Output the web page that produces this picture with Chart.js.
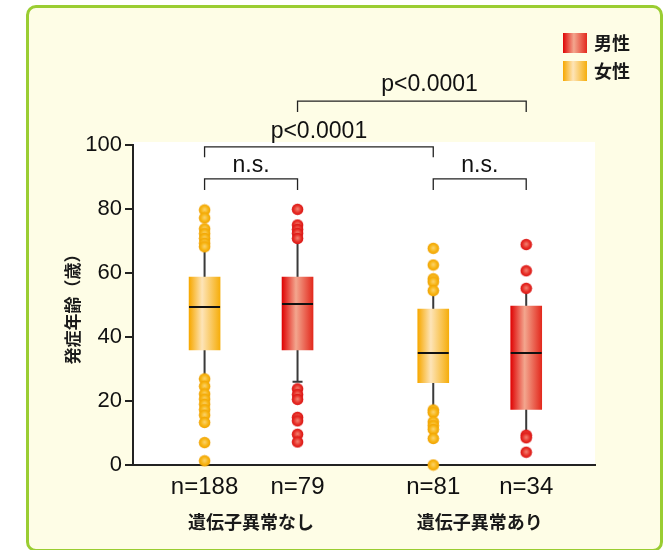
<!DOCTYPE html>
<html>
<head>
<meta charset="utf-8">
<script src="https://cdn.jsdelivr.net/npm/chart.js@4/dist/chart.umd.min.js"></script>
<style>
body { margin: 0; background: #fff; }
#frame { position: absolute; left: 26px; top: 5px; width: 631px; height: 541px; border: 3px solid #9acd32; border-radius: 10px; background: #fefde6; }
#wrap { position: absolute; left: 0; top: 0; width: 665px; height: 550px; }
</style>
</head>
<body>
<div id="frame"></div>
<div id="wrap"><canvas id="boxChart" width="665" height="550"></canvas></div>
<script>
// data
var groups = ["遺伝子異常なし", "遺伝子異常あり"];
var nLabels = ["n=188", "n=79", "n=81", "n=34"];
var sexes = ["女性", "男性", "女性", "男性"];
var q1 = [36.0, 36.0, 25.7, 17.4];
var median = [49.4, 50.2, 35.1, 35.1];
var q3 = [58.7, 58.7, 48.7, 49.7];
var whiskerLow = [26.9, 26.0, 17.2, 9.3];
var whiskerHigh = [68.2, 72.0, 54.5, 55.2];
var outliersF188 = [79.7, 77.2, 73.8, 72.3, 70.8, 69.3, 68.2, 26.9, 24.6, 22.2, 20.6, 19.0, 17.3, 15.6, 13.3, 7.0, 1.3];
var outliersM79 = [79.9, 75.0, 73.6, 72.4, 70.8, 23.8, 22.0, 20.5, 14.9, 13.8, 9.6, 7.2];
var outliersF81 = [67.7, 62.5, 58.2, 57.2, 54.5, 17.2, 16.4, 13.5, 12.3, 11.1, 8.3, 0];
var outliersM34 = [68.9, 60.7, 55.2, 9.3, 8.5, 4.0];
var yTicks = [0, 20, 40, 60, 80, 100];

// layout: where each box sits on the linear x scale
var boxX = [1, 2, 3.46, 4.46];
var groupX = [1.5, 3.96];
var outliers = [outliersF188, outliersM79, outliersF81, outliersM34];

var FONT = "'Liberation Sans', Arial, sans-serif";
var JFONT = "'Noto Sans CJK JP', sans-serif";

function boxGradient(ctx, x0, x1, sex) {
    var g = ctx.createLinearGradient(x0, 0, x1, 0);
    if (sex === "男性") {
        g.addColorStop(0, "#df0505");
        g.addColorStop(0.45, "#f3a68e");
        g.addColorStop(1, "#e32a1e");
    } else {
        g.addColorStop(0, "#f7a800");
        g.addColorStop(0.42, "#fde4b8");
        g.addColorStop(1, "#f6ae0c");
    }
    return g;
}

function makeDot(inner, mid, outer) {
    var c = document.createElement("canvas");
    c.width = 13; c.height = 13;
    var x = c.getContext("2d");
    var g = x.createRadialGradient(6.5, 6, 0, 6.5, 6.5, 6);
    g.addColorStop(0, inner);
    g.addColorStop(0.6, mid);
    g.addColorStop(1, outer);
    x.fillStyle = g;
    x.beginPath();
    x.arc(6.5, 6.5, 5.8, 0, Math.PI * 2);
    x.fill();
    return c;
}
var dotF = makeDot("#fcd470", "#f7b514", "#f0a000");
var dotM = makeDot("#f38474", "#e73028", "#d81010");

function pointsFor(sex) {
    var pts = [];
    outliers.forEach(function (arr, i) {
        if (sexes[i] !== sex) return;
        arr.forEach(function (v) { pts.push({x: boxX[i], y: v}); });
    });
    return pts;
}

var plotBg = {
    id: "plotBg",
    beforeDraw: function (chart) {
        var a = chart.chartArea, ctx = chart.ctx;
        ctx.save();
        ctx.fillStyle = "#ffffff";
        ctx.fillRect(a.left, a.top - 3, a.right - a.left, a.bottom - a.top + 3);
        ctx.restore();
    }
};

// whiskers under the boxes, medians on top
var boxParts = {
    id: "boxParts",
    beforeDatasetsDraw: function (chart) {
        var ctx = chart.ctx, y = chart.scales.y;
        var bars = chart.getDatasetMeta(2).data;
        ctx.save();
        ctx.strokeStyle = "#3a3a3a";
        ctx.lineWidth = 2;
        bars.forEach(function (b, i) {
            ctx.beginPath();
            ctx.moveTo(b.x, y.getPixelForValue(whiskerLow[i]));
            ctx.lineTo(b.x, y.getPixelForValue(whiskerHigh[i]));
            [whiskerLow[i], whiskerHigh[i]].forEach(function (v) {
                var py = y.getPixelForValue(v);
                ctx.moveTo(b.x - 5, py);
                ctx.lineTo(b.x + 5, py);
            });
            ctx.stroke();
        });
        ctx.restore();
    },
    afterDatasetsDraw: function (chart) {
        var ctx = chart.ctx, y = chart.scales.y;
        var bars = chart.getDatasetMeta(2).data;
        ctx.save();
        ctx.strokeStyle = "#111";
        ctx.lineWidth = 2;
        bars.forEach(function (b, i) {
            var py = Math.round(y.getPixelForValue(median[i]));
            ctx.beginPath();
            ctx.moveTo(b.x - b.width / 2, py);
            ctx.lineTo(b.x + b.width / 2, py);
            ctx.stroke();
        });
        ctx.restore();
    }
};

// significance brackets: a/b = box index, level/leg/text baseline in y units
var brackets = [
    {a: 0, b: 1, level: 89.4, leg: 3.5, text: "n.s.", base: 91.7},
    {a: 2, b: 3, level: 89.4, leg: 3.5, text: "n.s.", base: 91.7},
    {a: 0, b: 2, level: 99.4, leg: 3.2, text: "p<0.0001", base: 102.1},
    {a: 1, b: 3, level: 113.7, leg: 3.4, text: "p<0.0001", base: 116.9, tx: 3.42}
];
var sigBrackets = {
    id: "sigBrackets",
    afterDraw: function (chart) {
        var ctx = chart.ctx, x = chart.scales.x, y = chart.scales.y;
        ctx.save();
        ctx.strokeStyle = "#222";
        ctx.lineWidth = 1.3;
        ctx.fillStyle = "#111";
        ctx.font = "23px " + FONT;
        ctx.textAlign = "center";
        ctx.textBaseline = "alphabetic";
        brackets.forEach(function (br) {
            var x0 = x.getPixelForValue(boxX[br.a]), x1 = x.getPixelForValue(boxX[br.b]);
            var py = y.getPixelForValue(br.level), pl = y.getPixelForValue(br.level - br.leg);
            ctx.beginPath();
            ctx.moveTo(x0, pl);
            ctx.lineTo(x0, py);
            ctx.lineTo(x1, py);
            ctx.lineTo(x1, pl);
            ctx.stroke();
            var tx = br.tx !== undefined ? x.getPixelForValue(br.tx) : (x0 + x1) / 2;
            ctx.fillText(br.text, tx, y.getPixelForValue(br.base));
        });
        ctx.restore();
    }
};

var sexLegend = {
    id: "sexLegend",
    afterDraw: function (chart) {
        var ctx = chart.ctx;
        ctx.save();
        ctx.font = "bold 18px " + JFONT;
        ctx.textBaseline = "middle";
        ["男性", "女性"].forEach(function (s, i) {
            var top = 33 + i * 28;
            ctx.fillStyle = boxGradient(ctx, 563, 587, s);
            ctx.fillRect(563, top, 24, 20);
            ctx.fillStyle = "#1a1a1a";
            ctx.fillText(s, 594, top + 10);
        });
        ctx.restore();
    }
};

var ctx = document.getElementById("boxChart").getContext("2d");
var chart = new Chart(ctx, {
    type: "bar",
    data: {
        datasets: [
            {
                type: "scatter", label: "女性", data: pointsFor("女性"), xAxisID: "x", yAxisID: "y",
                pointStyle: dotF, pointRadius: 6, clip: false
            },
            {
                type: "scatter", label: "男性", data: pointsFor("男性"), xAxisID: "x", yAxisID: "y",
                pointStyle: dotM, pointRadius: 6, clip: false
            },
            {
                type: "bar", label: "box", xAxisID: "x", yAxisID: "y",
                data: boxX.map(function (v, i) { return {x: v, y: [q1[i], q3[i]]}; }),
                barThickness: 31, grouped: false, borderWidth: 0,
                backgroundColor: function (c) {
                    if (c.type !== "data" || !c.chart.chartArea) return "#f7b514";
                    var px = c.chart.scales.x.getPixelForValue(boxX[c.dataIndex]);
                    return boxGradient(c.chart.ctx, px - 15.5, px + 15.5, sexes[c.dataIndex]);
                }
            }
        ]
    },
    options: {
        responsive: false,
        devicePixelRatio: 1,
        animation: false,
        layout: {padding: {left: 62, right: 70, top: 145, bottom: 12}},
        plugins: {legend: {display: false}, tooltip: {enabled: false}},
        scales: {
            x: {
                type: "linear", min: 0.23, max: 5.2, position: "bottom", offset: false,
                afterBuildTicks: function (s) { s.ticks = boxX.map(function (v) { return {value: v}; }); },
                ticks: {
                    callback: function (v, i) { return nLabels[i]; },
                    font: {family: FONT, size: 24}, color: "#111", padding: 8,
                    autoSkip: false, maxRotation: 0
                },
                grid: {display: false, drawTicks: false, offset: false},
                border: {display: true, color: "#222", width: 2},
                afterFit: function (s) { s.height = 38; }
            },
            x2: {
                type: "linear", min: 0.23, max: 5.2, position: "bottom", offset: false,
                afterBuildTicks: function (s) { s.ticks = groupX.map(function (v) { return {value: v}; }); },
                ticks: {
                    callback: function (v, i) { return groups[i]; },
                    font: {family: JFONT, size: 18, weight: "bold"}, color: "#1a1a1a", padding: 8,
                    autoSkip: false, maxRotation: 0
                },
                grid: {display: false, drawTicks: false, offset: false},
                border: {display: false},
                afterFit: function (s) { s.height = 35; }
            },
            y: {
                min: 0, max: 100,
                afterBuildTicks: function (s) { s.ticks = yTicks.map(function (v) { return {value: v}; }); },
                ticks: {font: {family: FONT, size: 22}, color: "#111", padding: 3},
                grid: {drawOnChartArea: false, tickLength: 8, color: "#222", lineWidth: 2},
                border: {color: "#222", width: 2},
                title: {
                    display: true, text: "発症年齢（歳）", color: "#1a1a1a", padding: 0,
                    font: {family: JFONT, size: 17, weight: "bold"}
                },
                afterFit: function (s) { s.width = 71; }
            }
        }
    },
    plugins: [plotBg, boxParts, sigBrackets, sexLegend]
});
</script>
</body>
</html>
